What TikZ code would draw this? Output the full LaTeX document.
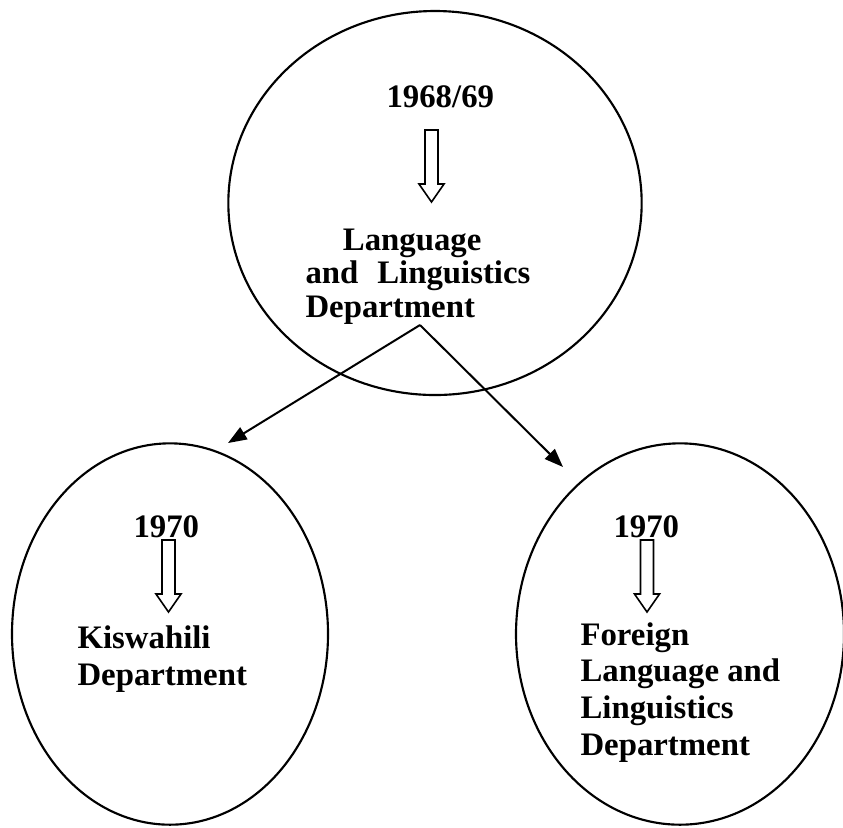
\documentclass[tikz,border=0pt]{standalone}
\usepackage{fontspec}
\setmainfont{Liberation Serif}
\usetikzlibrary{shapes.geometric,arrows.meta,positioning,calc}

\tikzset{
  dept/.style={draw, ellipse, line width=0.8pt, inner sep=0pt},
  label/.style={inner sep=0pt, anchor=base west, align=left, font=\bfseries\fontsize{12.3}{13.75}\selectfont},
  hollow/.pic={\draw[line width=0.6pt] (-6.5,0) -- (6.5,0) -- (6.5,54) -- (12.5,54) -- (0,72) -- (-12.5,54) -- (-6.5,54) -- cycle;}
}

\begin{document}
\begin{tikzpicture}[x=0.375pt, y=-0.375pt, >={Triangle[length=7pt, width=5.2pt]}]
    \useasboundingbox (0,0) rectangle (843,827);

    % the three departments
    \node[dept, minimum width=155pt, minimum height=144pt] (LLD) at (435,203) {};
    \node[dept, minimum width=118.5pt, minimum height=143pt] (KIS) at (170,634) {};
    \node[dept, minimum width=123pt, minimum height=143pt] (FLL) at (680,634) {};

    % years and names (anchored at the last line)
    \node[label] (Y1) at (386,107) {1968/69};
    \pic at (431.5,130) {hollow};
    \node[label, font=\bfseries\fontsize{12.3}{12.4}\selectfont] (T1) at (305,317)
      {\hspace*{14pt}Language\\ and \hspace{4pt}Linguistics\\ Department};

    \node[label] (Y2) at (133,537) {1970};
    \pic at (168.5,540) {hollow};
    \node[label] (T2) at (77,685) {Kiswahili\\ Department};

    \node[label] (Y3) at (613,537) {1970};
    \pic at (647,540) {hollow};
    \node[label] (T3) at (580,755) {Foreign\\ Language and\\ Linguistics\\ Department};

    % split into two
    \coordinate (fork) at (420,325);
    \coordinate (kisTip) at (228,443);
    \coordinate (fllTip) at (563,467);
    \draw[->, line width=0.75pt] (fork) -- (kisTip);
    \draw[->, line width=0.75pt] (fork) -- (fllTip);
\end{tikzpicture}
\end{document}
